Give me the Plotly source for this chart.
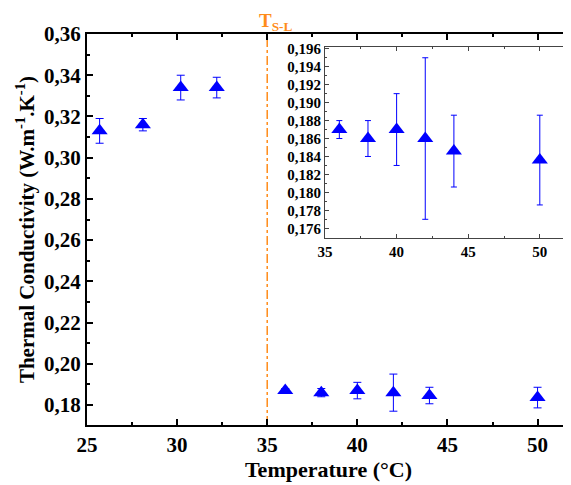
import plotly.graph_objects as go

# Main data
temp = [25.7, 28.1, 30.2, 32.2, 36, 38, 40, 42, 44, 50]
k_val = [0.313, 0.316, 0.334, 0.334, 0.187, 0.186, 0.187, 0.186, 0.1846, 0.1836]
k_err = [0.006, 0.003, 0.006, 0.005, 0.001, 0.002, 0.004, 0.009, 0.004, 0.005]

# Inset data (liquid phase)
temp_in = [36, 38, 40, 42, 44, 50]
k_in = [0.187, 0.186, 0.187, 0.186, 0.1846, 0.1836]
k_in_err = [0.001, 0.002, 0.004, 0.009, 0.004, 0.005]

t_sl = 35

FONT = "Liberation Serif"
BLUE = "#0000FF"
ORANGE = "#FF8C1A"

fig = go.Figure()
fig.add_trace(go.Scatter(
    x=temp, y=k_val, mode="markers",
    marker=dict(symbol="triangle-up", size=14, color=BLUE),
    error_y=dict(type="data", array=k_err, visible=True, color=BLUE, thickness=1, width=4),
    xaxis="x", yaxis="y", showlegend=False))
fig.add_trace(go.Scatter(
    x=temp_in, y=k_in, mode="markers",
    marker=dict(symbol="triangle-up", size=14, color=BLUE),
    error_y=dict(type="data", array=k_in_err, visible=True, color=BLUE, thickness=1, width=3),
    xaxis="x2", yaxis="y2", showlegend=False))

main_ax = dict(showline=True, linecolor="black", linewidth=2, mirror="ticks",
               ticks="inside", ticklen=6, tickwidth=2, tickcolor="black",
               showgrid=False, zeroline=False, automargin=False,
               tickfont=dict(family=FONT, size=21, color="black", weight="bold"))
inset_ax = dict(showline=True, linecolor="#444", linewidth=1, mirror="ticks",
                ticks="inside", ticklen=4, tickwidth=1, tickcolor="#444",
                showgrid=False, zeroline=False, automargin=False,
                tickfont=dict(family=FONT, size=15, color="black", weight="bold"))
fig.update_layout(
    width=571, height=485,
    margin=dict(l=79, r=9, t=26, b=68, autoexpand=False),
    paper_bgcolor="white", plot_bgcolor="white",
    separators=",.",
    font=dict(family=FONT, color="black"),
    xaxis=dict(main_ax, range=[25, 51.8], tickvals=[25, 30, 35, 40, 45, 50],
               minor=dict(ticks="inside", ticklen=3, tickwidth=2, dtick=2.5, tick0=25, tickcolor="black"),
               title=dict(text="<b>Temperature (°C)</b>", font=dict(family=FONT, size=22), standoff=2)),
    yaxis=dict(main_ax, range=[0.1703, 0.36], tickvals=[0.18, 0.20, 0.22, 0.24, 0.26, 0.28, 0.30, 0.32, 0.34, 0.36],
               tickformat=".2f",
               minor=dict(ticks="inside", ticklen=3, tickwidth=2, dtick=0.01, tick0=0.18, tickcolor="black"),
               title=dict(text="<b>Thermal Conductivity (W.m<sup>-1</sup>.K<sup>-1</sup>)</b>",
                          font=dict(family=FONT, size=21), standoff=4)),
    xaxis2=dict(inset_ax, domain=[0.4928, 0.9938], anchor="y2", range=[35, 51.9],
                tickvals=[35, 40, 45, 50],
                minor=dict(ticks="inside", ticklen=2, dtick=2.5, tick0=35, tickcolor="#444")),
    yaxis2=dict(inset_ax, domain=[0.4783, 0.9668], anchor="x2", range=[0.17492, 0.1962],
                tickvals=[0.176, 0.178, 0.180, 0.182, 0.184, 0.186, 0.188, 0.190, 0.192, 0.194, 0.196],
                tickformat=".3f",
                minor=dict(ticks="inside", ticklen=2, dtick=0.001, tick0=0.176, tickcolor="#444")),
)

fig.add_shape(type="line", xref="x", yref="y domain", x0=t_sl, x1=t_sl, y0=0, y1=1,
              line=dict(color=ORANGE, width=1.5, dash="dashdot"), layer="below")
fig.add_annotation(xref="x", yref="paper", x=t_sl, y=1.0665, yshift=-1, xshift=-9,
                   xanchor="left", yanchor="top", showarrow=False, borderpad=0,
                   text="<b>T<sub>S-L</sub></b>",
                   font=dict(family=FONT, size=19, color=ORANGE, weight="bold"))

fig.write_html("out.html")
